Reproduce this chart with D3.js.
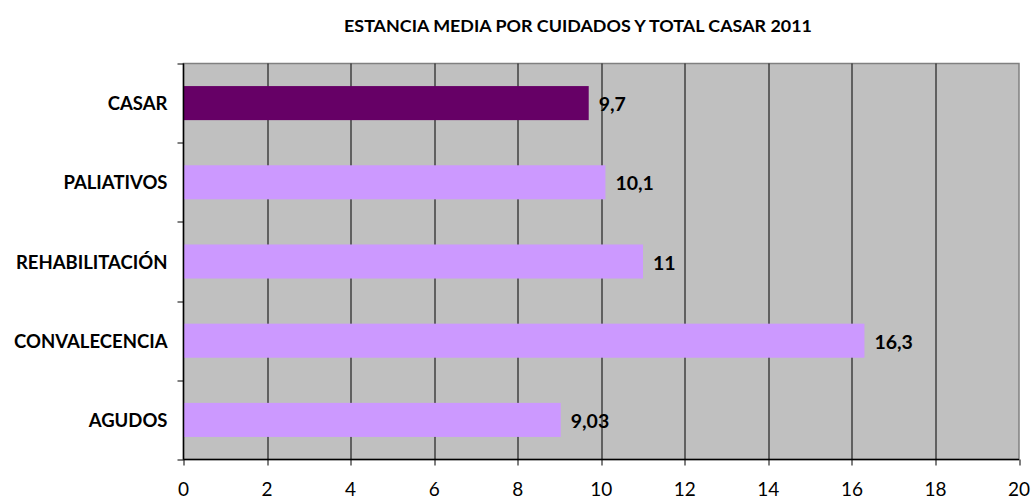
<!DOCTYPE html>
<html>
<head>
<meta charset="utf-8">
<script src="https://cdn.jsdelivr.net/npm/d3@7"></script>
<style>
  body { margin: 0; background: #fff; }
  svg { display: block; font-family: Lato, "Open Sans", sans-serif; }
</style>
</head>
<body>
<svg id="chart" width="1033" height="501"></svg>
<script>
const categories = ["CASAR", "PALIATIVOS", "REHABILITACIÓN", "CONVALECENCIA", "AGUDOS"];
const values = [9.7, 10.1, 11, 16.3, 9.03];
const valueLabels = ["9,7", "10,1", "11", "16,3", "9,03"];
const xTicks = [0, 2, 4, 6, 8, 10, 12, 14, 16, 18, 20];
const title = "ESTANCIA MEDIA POR CUIDADOS Y TOTAL CASAR 2011";

const svg = d3.select("#chart");
const margin = { top: 63.5, left: 183.5, right: 14, bottom: 41.5 };
const width = 1033 - margin.left - margin.right;
const height = 501 - margin.top - margin.bottom;

const x = d3.scaleLinear().domain([0, 20]).range([0, width]);
const y = d3.scaleBand().domain(categories).range([0, height]).paddingInner(0.57).paddingOuter(0.285);
const band = d3.scaleBand().domain(categories).range([0, height]);

svg.append("text")
  .attr("x", 578)
  .attr("y", 32)
  .attr("text-anchor", "middle")
  .attr("font-weight", 700)
  .attr("font-size", 17.9)
  .text(title);

const g = svg.append("g").attr("transform", `translate(${margin.left},${margin.top})`);

g.append("rect")
  .attr("width", width)
  .attr("height", height)
  .attr("fill", "#c0c0c0")
  .attr("stroke", "#808080")
  .attr("stroke-width", 1.5);

g.selectAll(".grid")
  .data(xTicks.slice(1, -1))
  .join("line")
  .attr("class", "grid")
  .attr("x1", (d) => Math.round(x(d)) + 0.5)
  .attr("x2", (d) => Math.round(x(d)) + 0.5)
  .attr("y1", 0)
  .attr("y2", height)
  .attr("stroke", "#000")
  .attr("stroke-width", 1);

g.selectAll(".bar")
  .data(categories)
  .join("rect")
  .attr("class", "bar")
  .attr("x", 0)
  .attr("y", (d) => y(d))
  .attr("width", (d, i) => x(values[i]))
  .attr("height", y.bandwidth())
  .attr("fill", (d, i) => (i === 0 ? "#660066" : "#cc99ff"));

g.selectAll(".value")
  .data(categories)
  .join("text")
  .attr("class", "value")
  .attr("x", (d, i) => x(values[i]) + 10)
  .attr("y", (d) => y(d) + y.bandwidth() / 2 + 8)
  .attr("font-weight", 700)
  .attr("font-size", 19.5)
  .text((d, i) => valueLabels[i]);

// left axis
const yAxis = g.append("g");
yAxis.append("line")
  .attr("x1", 0).attr("x2", 0)
  .attr("y1", 0).attr("y2", height)
  .attr("stroke", "#000").attr("stroke-width", 1.5);
yAxis.selectAll(".ytick")
  .data(d3.range(categories.length + 1))
  .join("line")
  .attr("class", "ytick")
  .attr("x1", -6).attr("x2", 0)
  .attr("y1", (d) => Math.round(d * band.step()) + 0.5)
  .attr("y2", (d) => Math.round(d * band.step()) + 0.5)
  .attr("stroke", "#000");
yAxis.selectAll(".ylabel")
  .data(categories)
  .join("text")
  .attr("class", "ylabel")
  .attr("x", -16)
  .attr("y", (d) => band(d) + band.bandwidth() / 2 + 7)
  .attr("text-anchor", "end")
  .attr("font-weight", 700)
  .attr("font-size", 18.5)
  .text((d) => d);

// bottom axis
const xAxis = g.append("g").attr("transform", `translate(0,${height})`);
xAxis.append("line")
  .attr("x1", 0).attr("x2", width)
  .attr("stroke", "#000").attr("stroke-width", 1.5);
xAxis.selectAll(".xtick")
  .data(xTicks)
  .join("line")
  .attr("class", "xtick")
  .attr("x1", (d) => Math.round(x(d)) + 0.5)
  .attr("x2", (d) => Math.round(x(d)) + 0.5)
  .attr("y1", 0).attr("y2", 6)
  .attr("stroke", "#000");
xAxis.selectAll(".xlabel")
  .data(xTicks)
  .join("text")
  .attr("class", "xlabel")
  .attr("x", (d) => x(d))
  .attr("y", 36)
  .attr("text-anchor", "middle")
  .attr("font-size", 19)
  .text((d) => d);
</script>
</body>
</html>
